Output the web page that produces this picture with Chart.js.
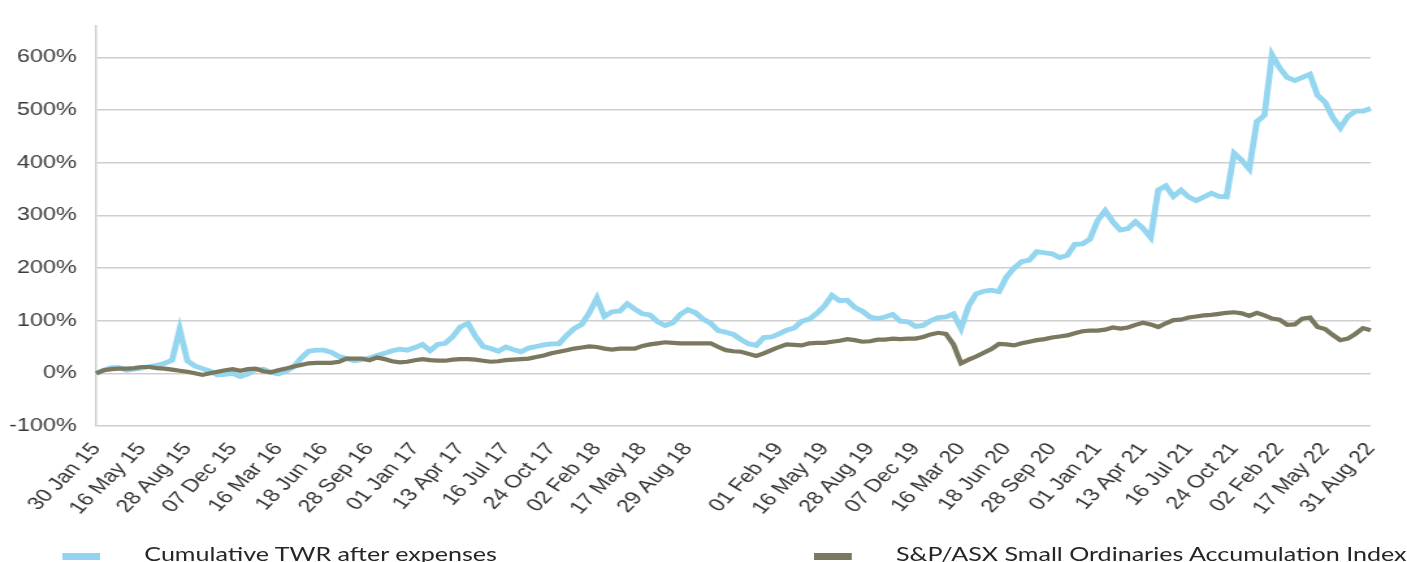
<!DOCTYPE html>
<html>
<head>
<meta charset="utf-8">
<script src="https://cdn.jsdelivr.net/npm/chart.js@4.4.0/dist/chart.umd.min.js"></script>
<style>
  html, body { margin: 0; padding: 0; background: #fff; overflow: hidden; }
  /* the source picture is stretched sideways, so the whole chart is drawn narrow and widened */
  #wrap { position: relative; width: 1082px; height: 562px; transform: scaleX(1.3004); transform-origin: 0 0; }
  #chart { display: block; }
  .swatch { position: absolute; top: 553px; width: 29px; height: 7px; }
  .item { position: absolute; top: 544px; font-family: Lato, "Open Sans", sans-serif; font-size: 19.3px; line-height: 19px; color: #262626; white-space: nowrap; }
</style>
</head>
<body>
<div id="wrap">
  <canvas id="chart" width="1082" height="562"></canvas>
  <div class="swatch" style="left:48px;background:#93d3ef"></div>
  <div class="item" style="left:111px">Cumulative TWR after expenses</div>
  <div class="swatch" style="left:626px;background:#7a785f"></div>
  <div class="item" style="left:689px">S&amp;P/ASX Small Ordinaries Accumulation Index</div>
</div>
<script>
var tickLabels = ['30 Jan 15', '16 May 15', '28 Aug 15', '07 Dec 15', '16 Mar 16', '18 Jun 16', '28 Sep 16',
  '01 Jan 17', '13 Apr 17', '16 Jul 17', '24 Oct 17', '02 Feb 18', '17 May 18', '29 Aug 18', '',
  '01 Feb 19', '16 May 19', '28 Aug 19', '07 Dec 19', '16 Mar 20', '18 Jun 20', '28 Sep 20',
  '01 Jan 21', '13 Apr 21', '16 Jul 21', '24 Oct 21', '02 Feb 22', '17 May 22', '31 Aug 22'];
var pointsPerTick = 6;

// cumulative return, %
var twr = [0, 6, 11, 11, 6, 8, 10, 13, 15, 19, 25, 84, 24, 14, 9, 4, -3, -2, 0, -6, -1, 7, 8, 2,
  -1, 4, 12, 29, 42, 44, 44, 40, 32, 28, 24, 26, 29, 34, 38, 43, 46, 44, 49, 55, 43, 55, 57, 70,
  88, 95, 70, 51, 47, 42, 50, 45, 41, 48, 51, 54, 56, 56, 72, 85, 93, 115, 143, 108, 117, 118, 132, 122,
  113, 111, 98, 91, 96, 112, 121, 115, 103, 95, 81, 78, 74, 64, 56, 53, 68, 69, 75, 82, 86, 99, 103, 114,
  128, 148, 138, 139, 125, 118, 107, 104, 107, 112, 99, 98, 89, 91, 100, 106, 107, 113, 85, 128, 151, 156, 158, 155,
  183, 200, 212, 215, 231, 229, 227, 220, 224, 245, 246, 255, 290, 309, 288, 272, 275, 288, 275, 258, 348, 356, 336, 348,
  335, 328, 335, 342, 336, 335, 418, 405, 388, 478, 490, 605, 580, 562, 556, 562, 568, 528, 515, 486, 466, 488, 498, 498, 503];

var smallOrds = [0, 6, 8, 9, 9, 10, 12, 12, 10, 9, 7, 5, 3, 0, -3, 0, 3, 6, 8, 5, 8, 9, 4, 2,
  6, 9, 13, 16, 19, 20, 20, 20, 22, 28, 28, 28, 25, 30, 27, 23, 21, 22, 25, 27, 25, 24, 24, 26,
  27, 27, 26, 24, 22, 23, 25, 26, 27, 28, 31, 34, 38, 41, 44, 47, 49, 51, 50, 47, 45, 47, 47, 47,
  52, 55, 57, 59, 58, 57, 57, 57, 57, 57, 50, 44, 42, 41, 37, 33, 38, 44, 50, 55, 54, 53, 57, 58,
  58, 60, 62, 65, 63, 60, 61, 64, 64, 66, 65, 66, 66, 69, 74, 77, 75, 55, 19, 26, 32, 39, 46, 56,
  55, 53, 57, 60, 63, 65, 68, 70, 72, 76, 80, 81, 81, 83, 87, 85, 87, 92, 96, 93, 88, 95, 101, 102,
  106, 108, 110, 111, 113, 115, 116, 114, 109, 115, 110, 104, 102, 92, 93, 104, 106, 88, 84, 73, 63, 66, 75, 86, 82];

// one category per data point, only every sixth one carries a date
var categories = [];
for (var i = 0; i < twr.length; i++) {
  categories.push(i % pointsPerTick === 0 ? tickLabels[i / pointsPerTick] : '');
}

var ctx = document.getElementById('chart').getContext('2d');
new Chart(ctx, {
  type: 'line',
  data: {
    labels: categories,
    datasets: [
      {
        label: 'Cumulative TWR after expenses',
        data: twr,
        borderColor: '#94d5f0',
        borderWidth: 4.8,
        pointRadius: 0,
        tension: 0,
        order: 1
      },
      {
        label: 'S&P/ASX Small Ordinaries Accumulation Index',
        data: smallOrds,
        borderColor: '#7a785f',
        borderWidth: 4.2,
        pointRadius: 0,
        tension: 0,
        order: 0
      }
    ]
  },
  options: {
    responsive: false,
    animation: false,
    layout: { padding: { top: 16, right: 28, left: 0, bottom: 0 } },
    plugins: {
      legend: { display: false },
      tooltip: { enabled: false }
    },
    scales: {
      x: {
        grid: { display: false },
        border: { display: false },
        ticks: {
          autoSkip: false,
          minRotation: 52,
          maxRotation: 52,
          padding: 5,
          color: '#333333',
          font: { family: 'Liberation Sans', size: 18 }
        },
        afterFit: function (scale) { scale.height = 136; }
      },
      y: {
        min: -100,
        max: 660,
        afterBuildTicks: function (scale) {
          scale.ticks = scale.ticks.filter(function (t) { return t.value <= 600; });
        },
        ticks: {
          stepSize: 100,
          padding: 15,
          color: '#3a3a3a',
          font: { family: 'Liberation Sans', size: 18 },
          callback: function (v) { return v + '%'; }
        },
        grid: { color: '#cfcfcf', lineWidth: 1.5, drawTicks: false },
        border: { color: '#cfcfcf', width: 1.5 },
        afterFit: function (scale) { scale.width = 74; }
      }
    }
  }
});
</script>
</body>
</html>
